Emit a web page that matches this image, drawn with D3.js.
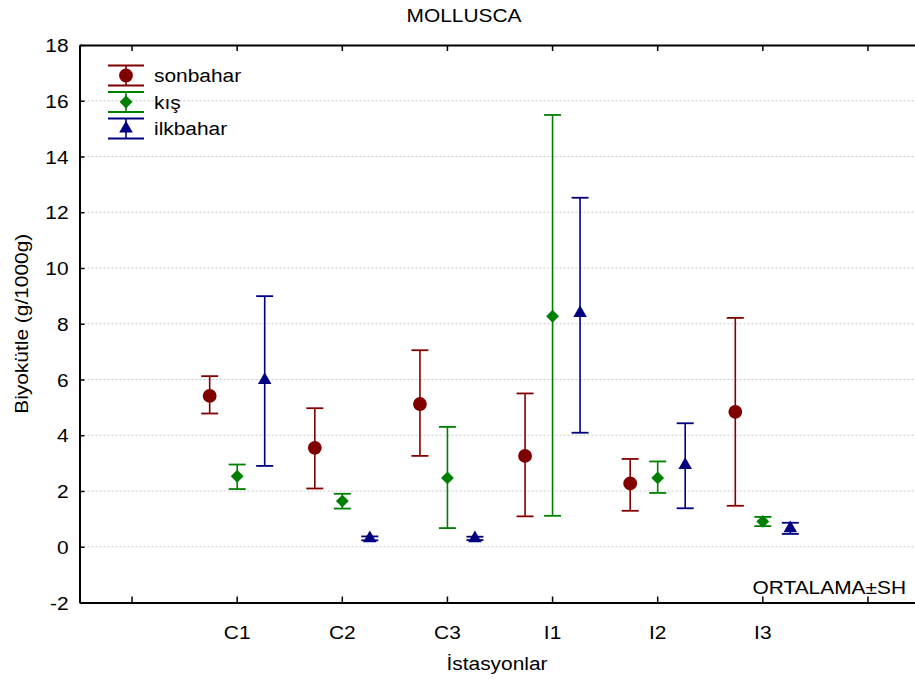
<!DOCTYPE html>
<html>
<head>
<meta charset="utf-8">
<script src="https://cdn.jsdelivr.net/npm/d3@7"></script>
<style>
  body { margin: 0; background: #fff; }
  svg { display: block; font-family: "Liberation Sans", Arial, sans-serif; }
</style>
</head>
<body>
<svg id="chart" width="915" height="683"></svg>
<script>
// stations (blank slots at both ends, as in the original axis)
const stations = ["C1", "C2", "C3", "I1", "I2", "I3"];
const seasons = ["sonbahar", "kış", "ilkbahar"];
const yTicks = [-2, 0, 2, 4, 6, 8, 10, 12, 14, 16, 18];

// mean, lower and upper (mean ± SH) per season, in station order
const sonbaharMean  = [5.41, 3.55, 5.12, 3.26, 2.27, 4.84];
const sonbaharLow   = [4.78, 2.09, 3.26, 1.09, 1.29, 1.47];
const sonbaharHigh  = [6.12, 4.97, 7.05, 5.50, 3.15, 8.21];

const kisMean  = [2.53, 1.64, 2.47, 8.27, 2.47, 0.91];
const kisLow   = [2.07, 1.37, 0.67, 1.11, 1.93, 0.74];
const kisHigh  = [2.95, 1.90, 4.30, 15.49, 3.06, 1.07];

const ilkbaharMean = [5.98, 0.30, 0.30, 8.38, 2.93, 0.66];
const ilkbaharLow  = [2.90, 0.23, 0.24, 4.09, 1.38, 0.46];
const ilkbaharHigh = [8.99, 0.37, 0.36, 12.52, 4.43, 0.86];

const seriesInfo = [
  { name: "sonbahar", color: "#800000", symbol: d3.symbolCircle, size: 150, rot: 0, mean: sonbaharMean, low: sonbaharLow, high: sonbaharHigh },
  { name: "kış", color: "#008000", symbol: d3.symbolSquare, size: 82, rot: 45, mean: kisMean, low: kisLow, high: kisHigh },
  { name: "ilkbahar", color: "#000080", symbol: d3.symbolTriangle, size: 80, rot: 0, mean: ilkbaharMean, low: ilkbaharLow, high: ilkbaharHigh }
];

const svg = d3.select("#chart");
const plotLeft = 79.5, plotRight = 920.5, plotTop = 45, plotBottom = 602.5;
const fs = 19, stretch = 1.1;   // text in the original is a bit wide

const slots = ["_a"].concat(stations, ["_b"]);
const x = d3.scaleBand().domain(slots).range([plotLeft, plotRight]);
const y = d3.scaleLinear().domain([-2, 18]).range([plotBottom, plotTop]);
const offset = d3.scaleOrdinal().domain(seasons).range([-27.5, 0, 27.5]);
const cx = s => x(s) + x.bandwidth() / 2;

function label(px, py, str, anchor, rotate) {
  return svg.append("text")
    .attr("transform", `translate(${px},${py})` + (rotate ? ` rotate(${rotate})` : "") + ` scale(${stretch},1)`)
    .attr("text-anchor", anchor)
    .attr("font-size", fs)
    .attr("fill", "#000")
    .text(str);
}

// grid lines
svg.append("g")
  .selectAll("line")
  .data(yTicks.filter(t => t > -2 && t < 18))
  .enter().append("line")
  .attr("x1", plotLeft).attr("x2", plotRight)
  .attr("y1", d => y(d)).attr("y2", d => y(d))
  .attr("stroke", "#c8c8c8")
  .attr("stroke-width", 1)
  .attr("stroke-dasharray", "2,2");

// axes (ticks point inward)
svg.append("g")
  .attr("transform", `translate(${plotLeft},0)`)
  .call(d3.axisLeft(y).tickValues(yTicks).tickSize(-5).tickPadding(10).tickSizeOuter(0)
    .tickFormat(d => d < 0 ? "-" + Math.abs(d) : d))
  .call(g => g.selectAll("text")
    .attr("font-size", fs).attr("fill", "#000")
    .attr("font-family", "Liberation Sans, Arial, sans-serif")
    .attr("dy", "0.35em")
    .attr("transform", `scale(${stretch},1)`));

svg.append("g")
  .attr("transform", `translate(0,${plotBottom})`)
  .call(d3.axisBottom(x).tickSize(-6).tickPadding(23).tickSizeOuter(0)
    .tickFormat(d => d.startsWith("_") ? "" : d))
  .call(g => g.selectAll("text")
    .attr("font-size", fs).attr("fill", "#000")
    .attr("font-family", "Liberation Sans, Arial, sans-serif")
    .attr("transform", `scale(${stretch},1)`));

svg.append("g")
  .attr("transform", `translate(0,${plotTop})`)
  .call(d3.axisTop(x).tickSize(-6).tickFormat("").tickSizeOuter(0));

svg.selectAll(".domain").attr("stroke", "#000").attr("stroke-width", 2);
svg.selectAll(".tick line").attr("stroke", "#000").attr("stroke-width", 1.5);

// error bars and means
const capHalf = 8.5;
seriesInfo.forEach(s => {
  const g = svg.append("g");
  stations.forEach((st, i) => {
    const px = cx(st) + offset(s.name);
    g.append("line")
      .attr("x1", px).attr("x2", px)
      .attr("y1", y(s.low[i])).attr("y2", y(s.high[i]))
      .attr("stroke", s.color).attr("stroke-width", 1.6);
    [s.low[i], s.high[i]].forEach(v => {
      g.append("line")
        .attr("x1", px - capHalf).attr("x2", px + capHalf)
        .attr("y1", y(v)).attr("y2", y(v))
        .attr("stroke", s.color).attr("stroke-width", 1.8);
    });
    g.append("path")
      .attr("d", d3.symbol().type(s.symbol).size(s.size)())
      .attr("transform", `translate(${px},${y(s.mean[i])}) rotate(${s.rot})`)
      .attr("fill", s.color);
  });
});

// legend
const legend = svg.append("g");
seriesInfo.forEach((s, i) => {
  const cy = 75.5 + i * 26.5;
  const lx1 = 108, lx2 = 144, lm = (lx1 + lx2) / 2;
  [-10, 10].forEach(dy => {
    legend.append("line")
      .attr("x1", lx1).attr("x2", lx2)
      .attr("y1", cy + dy).attr("y2", cy + dy)
      .attr("stroke", s.color).attr("stroke-width", 1.8);
  });
  legend.append("line")
    .attr("x1", lm).attr("x2", lm)
    .attr("y1", cy - 10).attr("y2", cy + 10)
    .attr("stroke", s.color).attr("stroke-width", 1.6);
  legend.append("path")
    .attr("d", d3.symbol().type(s.symbol).size(s.size)())
    .attr("transform", `translate(${lm},${cy}) rotate(${s.rot})`)
    .attr("fill", s.color);
  label(154, cy + 6.5, s.name, "start");
});

// titles
label(464, 22, "MOLLUSCA", "middle");
label(28, (plotTop + plotBottom) / 2, "Biyokütle (g/1000g)", "middle", -90);
label(497, 670, "İstasyonlar", "middle");
label(906, 594, "ORTALAMA±SH", "end");
</script>
</body>
</html>
